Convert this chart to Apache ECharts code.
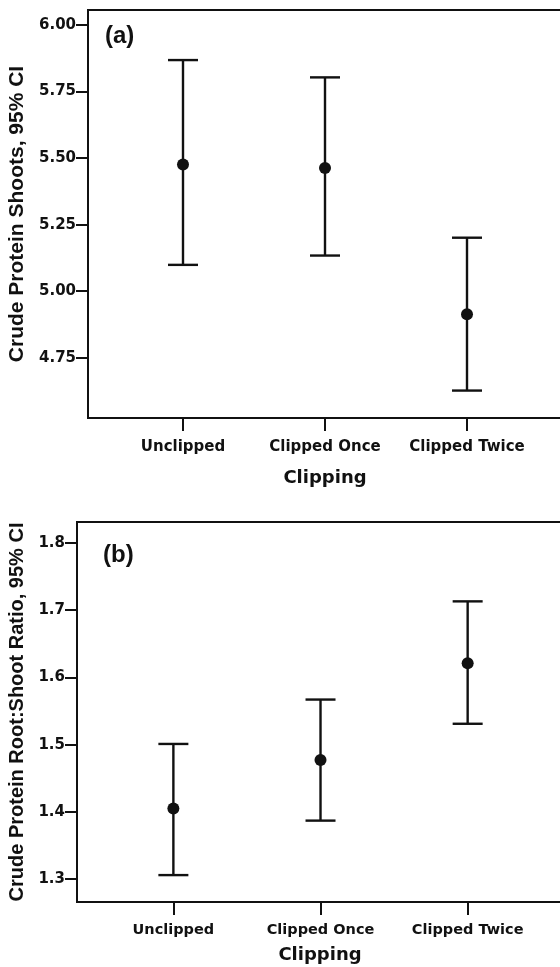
<!DOCTYPE html>
<html>
<head>
<meta charset="utf-8">
<script src="https://cdn.jsdelivr.net/npm/echarts@6/dist/echarts.min.js"></script>
<style>
html,body{margin:0;padding:0;background:#fff;}
#chart{width:560px;height:967px;}
</style>
</head>
<body>
<div id="chart"></div>
<script>
const categories = ['Unclipped', 'Clipped Once', 'Clipped Twice'];

// Panel (a): Crude Protein Shoots
const meanA  = [5.476, 5.463, 4.914];
const lowerA = [5.099, 5.134, 4.627];
const upperA = [5.868, 5.803, 5.201];
const ticksA = [4.75, 5.00, 5.25, 5.50, 5.75, 6.00];

// Panel (b): Crude Protein Root:Shoot Ratio
const meanB  = [1.405, 1.477, 1.621];
const lowerB = [1.306, 1.387, 1.531];
const upperB = [1.501, 1.567, 1.713];
const ticksB = [1.3, 1.4, 1.5, 1.6, 1.7, 1.8];

const INK = '#111';
const tickFont = '"DejaVu Sans"';
const titleFont = '"Liberation Sans"';

function errBar(params, api) {
  const x = api.value(0);
  const lo = api.coord([x, api.value(1)]);
  const hi = api.coord([x, api.value(2)]);
  const hw = 15;
  const st = { stroke: INK, lineWidth: 2.4 };
  return {
    type: 'group',
    children: [
      { type: 'line', shape: { x1: lo[0], y1: lo[1], x2: hi[0], y2: hi[1] }, style: st },
      { type: 'line', shape: { x1: hi[0] - hw, y1: hi[1], x2: hi[0] + hw, y2: hi[1] }, style: st },
      { type: 'line', shape: { x1: lo[0] - hw, y1: lo[1], x2: lo[0] + hw, y2: lo[1] }, style: st }
    ]
  };
}

function xAxisCfg(idx, min, max, labelSize, labelMargin, nameGap) {
  return {
    gridIndex: idx, type: 'value', min: min, max: max,
    name: 'Clipping', nameLocation: 'middle', nameGap: nameGap,
    nameTextStyle: { fontFamily: tickFont, fontWeight: 'bold', fontSize: 18, color: INK },
    axisLine: { show: true, onZero: false, lineStyle: { color: INK, width: 2 } },
    axisTick: { show: true, customValues: [0, 1, 2], length: 13, lineStyle: { color: INK, width: 2 } },
    axisLabel: {
      customValues: [0, 1, 2], margin: labelMargin,
      formatter: v => categories[Math.round(v)] || '',
      fontFamily: tickFont, fontWeight: 'bold', fontSize: labelSize, color: INK
    },
    splitLine: { show: false }
  };
}

function yAxisCfg(idx, min, max, ticks, digits, name, nameSize, nameGap, labelSize) {
  return {
    gridIndex: idx, type: 'value', min: min, max: max,
    name: name, nameLocation: 'middle', nameGap: nameGap,
    nameTextStyle: { fontFamily: titleFont, fontWeight: 'bold', fontSize: nameSize, color: INK },
    axisLine: { show: true, onZero: false, lineStyle: { color: INK, width: 2 } },
    axisTick: { show: true, customValues: ticks, length: 12, lineStyle: { color: INK, width: 2 } },
    axisLabel: {
      customValues: ticks, margin: 12,
      formatter: v => Number(v).toFixed(digits),
      fontFamily: tickFont, fontWeight: 'bold', fontSize: labelSize, color: INK
    },
    splitLine: { show: false }
  };
}

const chart = echarts.init(document.getElementById('chart'), null, { renderer: 'canvas' });
chart.setOption({
  animation: false,
  backgroundColor: '#fff',
  grid: [
    { left: 88, top: 10, width: 474, height: 408, show: true, borderColor: INK, borderWidth: 2,
      backgroundColor: 'transparent', containLabel: false, outerBoundsMode: 'none' },
    { left: 77, top: 522, width: 486, height: 380, show: true, borderColor: INK, borderWidth: 2,
      backgroundColor: 'transparent', containLabel: false, outerBoundsMode: 'none' }
  ],
  xAxis: [
    xAxisCfg(0, -0.669, 2.669, 15, 22, 51),
    xAxisCfg(1, -0.655, 2.648, 14.5, 21, 44)
  ],
  yAxis: [
    yAxisCfg(0, 4.524, 6.056, ticksA, 2, 'Crude Protein Shoots, 95% CI', 21, 53, 15),
    yAxisCfg(1, 1.266, 1.831, ticksB, 1, 'Crude Protein Root:Shoot Ratio, 95% CI', 20, 42, 15)
  ],
  graphic: [
    { type: 'text', left: 105, top: 24, style: { text: '(a)', font: 'bold 24px "Liberation Sans"', fill: INK } },
    { type: 'text', left: 103, top: 543, style: { text: '(b)', font: 'bold 24px "Liberation Sans"', fill: INK } }
  ],
  series: [
    { type: 'custom', xAxisIndex: 0, yAxisIndex: 0, renderItem: errBar,
      data: categories.map((c, i) => [i, lowerA[i], upperA[i]]) },
    { type: 'scatter', xAxisIndex: 0, yAxisIndex: 0, symbol: 'circle', symbolSize: 12,
      itemStyle: { color: INK, opacity: 1 }, data: meanA.map((m, i) => [i, m]), z: 5 },
    { type: 'custom', xAxisIndex: 1, yAxisIndex: 1, renderItem: errBar,
      data: categories.map((c, i) => [i, lowerB[i], upperB[i]]) },
    { type: 'scatter', xAxisIndex: 1, yAxisIndex: 1, symbol: 'circle', symbolSize: 12,
      itemStyle: { color: INK, opacity: 1 }, data: meanB.map((m, i) => [i, m]), z: 5 }
  ]
});
</script>
</body>
</html>
